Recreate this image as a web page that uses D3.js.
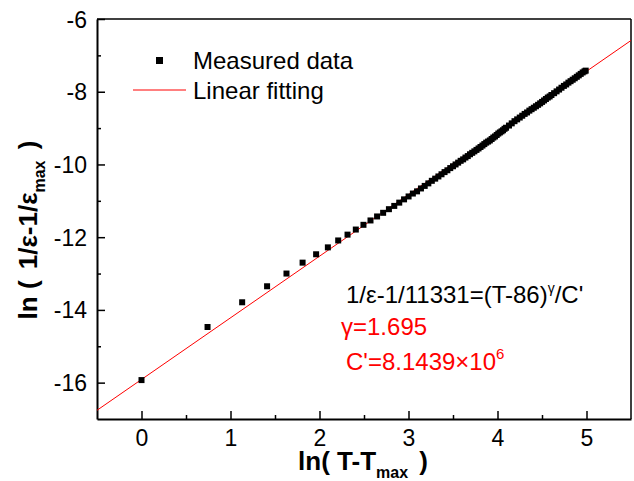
<!DOCTYPE html>
<html lang="en">

<head>
  <meta charset="utf-8">
  <title>Curie-Weiss fit</title>
  <script src="https://cdn.jsdelivr.net/npm/d3@7"></script>
  <style>
    body { margin: 0; background: #fff; }
    text { font-family: Arial, "Liberation Sans", sans-serif; }
  </style>
</head>

<body>
  <svg class="chart"></svg>
  <script>
    // chart size and plot box
    var w = 634;
    var h = 481;
    var mLeft = 97, mTop = 19, mRight = 631, mBottom = 419;

    // measured data: ln(T-Tmax) and ln(1/eps - 1/eps_max)
    var lnT = [0.000, 0.742, 1.131, 1.411, 1.629, 1.810, 1.962, 2.094, 2.210, 2.315,
      2.408, 2.494, 2.573, 2.647, 2.715, 2.780, 2.840, 2.896, 2.950, 3.001,
      3.049, 3.096, 3.140, 3.182, 3.223, 3.262, 3.300, 3.336, 3.371, 3.405,
      3.437, 3.469, 3.500, 3.529, 3.558, 3.586, 3.614, 3.640, 3.666, 3.691,
      3.716, 3.740, 3.764, 3.787, 3.809, 3.831, 3.852, 3.873, 3.894, 3.914,
      3.934, 3.953, 3.972, 3.991, 4.009, 4.027, 4.045, 4.062, 4.079, 4.096,
      4.129, 4.160, 4.191, 4.221, 4.250, 4.278, 4.305, 4.332, 4.358, 4.383,
      4.408, 4.432, 4.456, 4.479, 4.501, 4.523, 4.544, 4.565, 4.586, 4.606,
      4.636, 4.664, 4.692, 4.719, 4.746, 4.772, 4.797, 4.821, 4.845, 4.868,
      4.891, 4.913, 4.935, 4.957, 4.977, 4.991];
    var lnEps = [-15.93, -14.47, -13.79, -13.35, -13.00, -12.70, -12.47, -12.28, -12.09, -11.93,
      -11.79, -11.66, -11.54, -11.43, -11.33, -11.23, -11.14, -11.05, -10.96, -10.88,
      -10.80, -10.74, -10.66, -10.59, -10.52, -10.45, -10.39, -10.33, -10.27, -10.21,
      -10.16, -10.10, -10.05, -10.00, -9.95, -9.90, -9.86, -9.81, -9.77, -9.72,
      -9.68, -9.64, -9.60, -9.56, -9.52, -9.48, -9.44, -9.40, -9.37, -9.34,
      -9.30, -9.26, -9.23, -9.19, -9.15, -9.12, -9.09, -9.06, -9.02, -8.99,
      -8.93, -8.87, -8.81, -8.76, -8.71, -8.66, -8.61, -8.57, -8.52, -8.48,
      -8.44, -8.40, -8.36, -8.32, -8.28, -8.24, -8.20, -8.16, -8.13, -8.09,
      -8.04, -7.99, -7.94, -7.89, -7.84, -7.80, -7.75, -7.71, -7.67, -7.63,
      -7.59, -7.55, -7.51, -7.47, -7.44, -7.42];

    // linear fit (slope = gamma, intercept = -ln C')
    var fitSlope = 1.695;
    var fitIntercept = -15.913;
    var fitRange = [-0.5, 5.5];

    var xTicks = [0, 1, 2, 3, 4, 5];
    var xMinor = [0.5, 1.5, 2.5, 3.5, 4.5];
    var yTicks = [-16, -14, -12, -10, -8, -6];
    var yMinor = [-15, -13, -11, -9, -7];

    var svg = d3.select("svg")
      .attr("width", w)
      .attr("height", h);

    var x = d3.scaleLinear().domain([-0.5, 5.5]).range([mLeft, mRight]);
    var y = d3.scaleLinear().domain([-17, -6]).range([mBottom, mTop]);

    // plain hyphen for negative labels, like the original
    var fmt = function(d) { return String(d); };

    svg.append("clipPath").attr("id", "plot")
      .append("rect")
      .attr("x", mLeft).attr("y", mTop)
      .attr("width", mRight - mLeft).attr("height", mBottom - mTop);

    // frame top and right
    svg.append("line")
      .attr("x1", mLeft).attr("x2", mRight).attr("y1", mTop).attr("y2", mTop)
      .attr("stroke", "#000").attr("stroke-width", 1.5);
    svg.append("line")
      .attr("x1", mRight).attr("x2", mRight).attr("y1", mTop).attr("y2", mBottom)
      .attr("stroke", "#000").attr("stroke-width", 1.5);

    // X axis
    var gx = svg.append("g")
      .attr("transform", "translate(0," + mBottom + ")")
      .call(d3.axisBottom(x).tickValues(xTicks).tickSizeInner(-8).tickSizeOuter(0).tickFormat(fmt));
    svg.append("g")
      .attr("transform", "translate(0," + mBottom + ")")
      .call(d3.axisBottom(x).tickValues(xMinor).tickSizeInner(-4).tickSizeOuter(0).tickFormat(""))
      .select(".domain").remove();
    gx.selectAll("text")
      .attr("y", 27).attr("dy", 0)
      .style("font-size", "23px");

    // Y axis
    var gy = svg.append("g")
      .attr("transform", "translate(" + mLeft + ",0)")
      .call(d3.axisLeft(y).tickValues(yTicks).tickSizeInner(-8).tickSizeOuter(0).tickFormat(fmt));
    svg.append("g")
      .attr("transform", "translate(" + mLeft + ",0)")
      .call(d3.axisLeft(y).tickValues(yMinor).tickSizeInner(-4).tickSizeOuter(0).tickFormat(""))
      .select(".domain").remove();
    gy.selectAll("text")
      .attr("x", -10).attr("dy", "0.35em")
      .style("font-size", "23px");

    svg.selectAll(".domain").attr("stroke-width", 2);
    svg.selectAll(".tick line").attr("stroke-width", 1.5);
    svg.selectAll(".tick text").attr("fill", "#000").style("font-family", "Arial, 'Liberation Sans', sans-serif");

    // fitted line
    svg.append("line")
      .attr("clip-path", "url(#plot)")
      .attr("x1", x(fitRange[0])).attr("y1", y(fitSlope * fitRange[0] + fitIntercept))
      .attr("x2", x(fitRange[1])).attr("y2", y(fitSlope * fitRange[1] + fitIntercept))
      .attr("stroke", "#ff0000").attr("stroke-width", 1);

    // measured points
    var pts = lnT.map(function(d, i) { return { x: d, y: lnEps[i] }; });
    svg.selectAll("rect.pt")
      .data(pts)
      .enter()
      .append("rect")
      .attr("class", "pt")
      .attr("x", function(d) { return x(d.x) - 3; })
      .attr("y", function(d) { return y(d.y) - 3; })
      .attr("width", 6)
      .attr("height", 6)
      .attr("fill", "#000");

    // legend
    svg.append("rect")
      .attr("x", 156).attr("y", 57).attr("width", 7).attr("height", 7)
      .attr("fill", "#000");
    svg.append("text")
      .attr("x", 193).attr("y", 69)
      .style("font-size", "24px")
      .text("Measured data");
    svg.append("line")
      .attr("x1", 133).attr("x2", 186).attr("y1", 90).attr("y2", 90)
      .attr("stroke", "#ff0000").attr("stroke-width", 1);
    svg.append("text")
      .attr("x", 193).attr("y", 99)
      .style("font-size", "24px")
      .text("Linear fitting");

    // annotation
    var eq = svg.append("text")
      .attr("x", 346).attr("y", 303)
      .style("font-size", "24px");
    eq.append("tspan").text("1/\u03b5-1/11331=(T-86)");
    eq.append("tspan").attr("dy", -10).style("font-size", "14px").text("\u03b3");
    eq.append("tspan").attr("dy", 10).text("/C'");

    svg.append("text")
      .attr("x", 341).attr("y", 335)
      .attr("fill", "#ff0000")
      .style("font-size", "24px")
      .text("\u03b3=1.695");

    var ct = svg.append("text")
      .attr("x", 346).attr("y", 370)
      .attr("fill", "#ff0000")
      .style("font-size", "24px");
    ct.append("tspan").text("C'=8.1439\u00d710");
    ct.append("tspan").attr("dy", -11).style("font-size", "15px").text("6");

    // axis titles
    var xt = svg.append("text")
      .attr("x", 363).attr("y", 470)
      .attr("text-anchor", "middle")
      .style("font-size", "26px").style("font-weight", "bold");
    xt.append("tspan").text("ln( T-T");
    xt.append("tspan").attr("dy", 8).style("font-size", "16px").text("max");
    xt.append("tspan").attr("dx", 4).attr("dy", -8).text(" )");

    var yt = svg.append("text")
      .attr("transform", "translate(37,230) rotate(-90)")
      .attr("text-anchor", "middle")
      .style("font-size", "26px").style("font-weight", "bold");
    yt.append("tspan").text("ln ( ");
    yt.append("tspan").attr("dx", 4).text("1/\u03b5-1/\u03b5");
    yt.append("tspan").attr("dy", 8).style("font-size", "16px").text("max");
    yt.append("tspan").attr("dx", 4).attr("dy", -8).text(" )");
  </script>
</body>

</html>
